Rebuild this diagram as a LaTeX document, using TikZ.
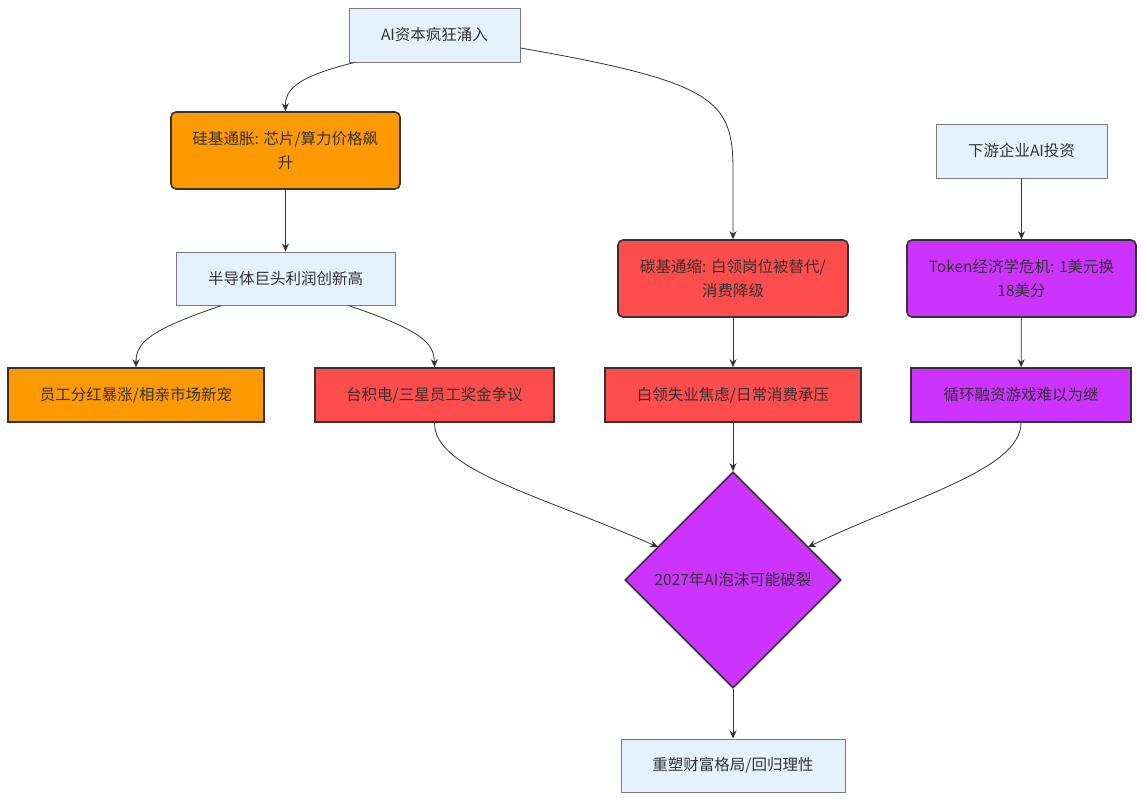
\documentclass[tikz,border=0pt]{standalone}
\usepackage{fontspec}
\setmainfont{Noto Sans CJK SC}
\usetikzlibrary{shapes.geometric,arrows.meta}
\definecolor{lb}{HTML}{E5F1FD}
\definecolor{lbd}{HTML}{7A7A7A}
\definecolor{org}{HTML}{FF9900}
\definecolor{rd}{HTML}{FF4C4C}
\definecolor{pp}{HTML}{CC33FF}
\definecolor{ink}{HTML}{333333}
\begin{document}
\begin{tikzpicture}[x=1pt,y=-1pt,
  every node/.style={font=\fontsize{15.5}{24}\selectfont, text=ink, align=center, inner sep=0pt},
  lightbox/.style={draw=lbd, line width=1pt, fill=lb},
  orangebox/.style={draw=ink, line width=1.6pt, fill=org},
  redbox/.style={draw=ink, line width=1.6pt, fill=rd},
  purplebox/.style={draw=ink, line width=1.6pt, fill=pp},
  rc/.style={rounded corners=5pt},
  conn/.style={draw=ink, line width=0.8pt, -{Stealth[length=8pt,width=7pt]}}
]
\useasboundingbox (0,0) rectangle (1144,801);
\fill[white] (0,0) rectangle (1144,801);

\node[lightbox, minimum width=171, minimum height=54] (A) at (434.5,35) {AI资本疯狂涌入};
\node[orangebox, rc, minimum width=229, minimum height=77] (B) at (285.5,150.5) {硅基通胀: 芯片/算力价格飙\\升};
\node[lightbox, minimum width=219, minimum height=53] (C) at (285.5,278.5) {半导体巨头利润创新高};
\node[orangebox, minimum width=256, minimum height=54] (D) at (136,395) {员工分红暴涨/相亲市场新宠};
\node[redbox, minimum width=239, minimum height=54] (E) at (434.5,395) {台积电/三星员工奖金争议};
\node[redbox, rc, minimum width=230, minimum height=77] (F) at (733,278.5) {碳基通缩: 白领岗位被替代/\\消费降级};
\node[redbox, minimum width=256, minimum height=54] (G) at (733,395) {白领失业焦虑/日常消费承压};
\node[lightbox, minimum width=171, minimum height=54] (H) at (1021.5,151) {下游企业AI投资};
\node[purplebox, rc, minimum width=229, minimum height=77] (I) at (1021.5,278.5) {Token经济学危机: 1美元换\\18美分};
\node[purplebox, minimum width=220, minimum height=54] (J) at (1021,395) {循环融资游戏难以为继};
\node[purplebox, diamond, aspect=1, minimum width=216, minimum height=216] (K) at (733,580) {2027年AI泡沫可能破裂};
\node[lightbox, minimum width=224, minimum height=53] (L) at (733,765.5) {重塑财富格局/回归理性};

\draw[conn] ([xshift=6pt]A.south west) .. controls (300,76) and (285,88) .. (B.north);
\draw[conn] ([yshift=-13pt]A.east) .. controls (715,82) and (733,100) .. (733,170) -- (F.north);
\draw[conn] (B) -- (C);
\draw[conn] ([xshift=46pt]C.south west) .. controls (150,330) and (136,342) .. (D.north);
\draw[conn] ([xshift=-47pt]C.south east) .. controls (420,330) and (434,342) .. (E.north);
\draw[conn] (F) -- (G);
\draw[conn] (H) -- (I);
\draw[conn] (I) -- (J);
\draw[conn] (E.south) .. controls (434,470) and (540,495) .. (658,547);
\draw[conn] (G) -- (K.north);
\draw[conn] (J.south) .. controls (1021,470) and (910,498) .. (808,547);
\draw[conn] (K) -- (L);
\end{tikzpicture}
\end{document}
